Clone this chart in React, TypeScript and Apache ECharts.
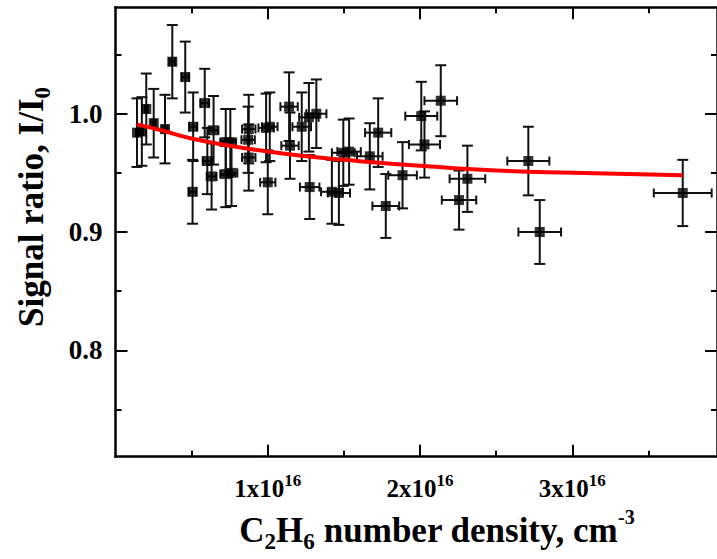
import React, { useEffect, useRef } from "react";
import * as echarts from "echarts";

// Measured data (x in units of 1e16 cm^-3)
const densityX = [0.141, 0.173, 0.202, 0.251, 0.325, 0.373, 0.458, 0.510, 0.506, 0.586, 0.603, 0.631, 0.644, 0.724, 0.754, 0.724, 0.762, 0.871, 0.875, 0.875, 0.989, 1.013, 1.000, 1.140, 1.146, 1.223, 1.270, 1.319, 1.275, 1.421, 1.467, 1.496, 1.534, 1.670, 1.725, 1.775, 1.885, 2.008, 2.029, 2.136, 2.256, 2.311, 2.711, 2.786, 3.725];
const signalRatio = [0.984, 0.985, 1.004, 0.992, 0.987, 1.044, 1.031, 0.989, 0.934, 1.009, 0.960, 0.947, 0.986, 0.976, 0.976, 0.949, 0.950, 0.978, 0.987, 0.963, 0.988, 0.989, 0.942, 1.006, 0.973, 0.989, 0.997, 1.000, 0.938, 0.934, 0.933, 0.967, 0.968, 0.964, 0.984, 0.922, 0.948, 0.998, 0.974, 1.011, 0.927, 0.945, 0.960, 0.900, 0.933];
const densityErr = [0.007, 0.009, 0.010, 0.013, 0.016, 0.019, 0.023, 0.026, 0.025, 0.029, 0.030, 0.032, 0.032, 0.036, 0.038, 0.036, 0.038, 0.044, 0.044, 0.044, 0.050, 0.051, 0.050, 0.057, 0.057, 0.061, 0.064, 0.066, 0.064, 0.071, 0.073, 0.075, 0.077, 0.084, 0.086, 0.088, 0.094, 0.105, 0.102, 0.107, 0.113, 0.117, 0.138, 0.140, 0.190];
const ratioErr = [0.029, 0.029, 0.030, 0.029, 0.029, 0.031, 0.030, 0.029, 0.027, 0.029, 0.028, 0.028, 0.029, 0.028, 0.028, 0.028, 0.028, 0.028, 0.029, 0.028, 0.029, 0.029, 0.027, 0.029, 0.028, 0.029, 0.029, 0.029, 0.027, 0.027, 0.027, 0.028, 0.028, 0.028, 0.029, 0.027, 0.028, 0.029, 0.028, 0.030, 0.025, 0.028, 0.029, 0.027, 0.028];

// Fit curve
const fitX = [0.14, 0.3, 0.5, 0.75, 1.0, 1.25, 1.5, 2.0, 2.5, 3.0, 3.725];
const fitY = [0.991, 0.986, 0.979, 0.973, 0.968, 0.964, 0.961, 0.956, 0.952, 0.950, 0.948];

// Axis ticks
const xMajorTicks = [1, 2, 3];
const xMinorTicks = [0.5, 1.5, 2.5, 3.5];
const xExponent = "16";
const yMajorTicks = [0.8, 0.9, 1.0];
const yMinorTicks = [0.75, 0.85, 0.95, 1.05];

const X_MIN = 0;
const X_MAX = 3.95;
const Y_MIN = 0.71;
const Y_MAX = 1.09;

const FONT = "'Liberation Serif', 'Times New Roman', serif";

export default function App() {
  const ref = useRef<HTMLDivElement>(null);

  useEffect(() => {
    if (!ref.current) return;
    const chart = echarts.init(ref.current, null, { renderer: "svg" });

    const errData = densityX.map((x, i) => [x, signalRatio[i], densityErr[i], ratioErr[i]]);
    const pts = densityX.map((x, i) => [x, signalRatio[i]]);
    const fit = fitX.map((x, i) => [x, fitY[i]]);

    const lineStyle = { color: "#000", width: 2.5 };

    const mkX = (pos: "top" | "bottom", ticks: number[], len: number, showLine: boolean, labels: boolean) => ({
      type: "value",
      position: pos,
      min: X_MIN,
      max: X_MAX,
      axisLine: { show: showLine, onZero: false, lineStyle },
      splitLine: { show: false },
      axisTick: { show: true, inside: true, length: len, customValues: ticks, lineStyle: { color: "#000", width: 2 } },
      axisLabel: labels
        ? {
            show: true,
            customValues: ticks,
            margin: 15,
            formatter: (v: number) => `{b|${Math.round(v)}x10}{s|${xExponent}}`,
            rich: {
              b: { fontFamily: FONT, fontWeight: "bold", fontSize: 25, color: "#000", lineHeight: 34 },
              s: { fontFamily: FONT, fontWeight: "bold", fontSize: 17, color: "#000", lineHeight: 14, verticalAlign: "top" },
            },
          }
        : { show: false },
    });

    const mkY = (pos: "left" | "right", ticks: number[], len: number, showLine: boolean, labels: boolean) => ({
      type: "value",
      position: pos,
      min: Y_MIN,
      max: Y_MAX,
      axisLine: { show: showLine, onZero: false, lineStyle },
      splitLine: { show: false },
      axisTick: { show: true, inside: true, length: len, customValues: ticks, lineStyle: { color: "#000", width: 2 } },
      axisLabel: labels
        ? {
            show: true,
            customValues: ticks,
            margin: 13,
            formatter: (v: number) => v.toFixed(1),
            fontFamily: FONT,
            fontWeight: "bold",
            fontSize: 27,
            color: "#000",
          }
        : { show: false },
    });

    chart.setOption({
      animation: false,
      backgroundColor: "#fff",
      grid: { left: 115.5, top: 7.3, right: -8.8, bottom: 102.3, containLabel: false },
      xAxis: [
        mkX("bottom", xMajorTicks, 12, true, true),
        mkX("bottom", xMinorTicks, 6, false, false),
        mkX("top", xMajorTicks, 12, true, false),
        mkX("top", xMinorTicks, 6, false, false),
      ],
      yAxis: [
        mkY("left", yMajorTicks, 12, true, true),
        mkY("left", yMinorTicks, 6, false, false),
        mkY("right", yMajorTicks, 12, true, false),
        mkY("right", yMinorTicks, 6, false, false),
      ],
      series: [
        {
          type: "custom",
          xAxisIndex: 0,
          yAxisIndex: 0,
          data: errData,
          clip: false,
          renderItem: (params: any, api: any) => {
            const x = api.value(0);
            const y = api.value(1);
            const xe = api.value(2);
            const ye = api.value(3);
            const top = api.coord([x, y + ye]);
            const bot = api.coord([x, y - ye]);
            const l = api.coord([x - xe, y]);
            const r = api.coord([x + xe, y]);
            const st = { stroke: "#111", lineWidth: 2 };
            const cw = 5.5;
            const ch = 4.5;
            const children: any[] = [
              { type: "line", shape: { x1: top[0], y1: top[1], x2: bot[0], y2: bot[1] }, style: st },
              { type: "line", shape: { x1: top[0] - cw, y1: top[1], x2: top[0] + cw, y2: top[1] }, style: st },
              { type: "line", shape: { x1: bot[0] - cw, y1: bot[1], x2: bot[0] + cw, y2: bot[1] }, style: st },
              { type: "line", shape: { x1: l[0], y1: l[1], x2: r[0], y2: r[1] }, style: st },
              { type: "line", shape: { x1: l[0], y1: l[1] - ch, x2: l[0], y2: l[1] + ch }, style: st },
              { type: "line", shape: { x1: r[0], y1: r[1] - ch, x2: r[0], y2: r[1] + ch }, style: st },
            ];
            return { type: "group", children };
          },
          z: 2,
        },
        {
          type: "scatter",
          xAxisIndex: 0,
          yAxisIndex: 0,
          data: pts,
          symbol: "rect",
          symbolSize: 10,
          itemStyle: { color: "#000" },
          z: 3,
        },
        {
          type: "line",
          xAxisIndex: 0,
          yAxisIndex: 0,
          data: fit,
          smooth: true,
          symbol: "none",
          lineStyle: { color: "#ff0000", width: 4 },
          z: 4,
        },
      ],
      graphic: [
        {
          type: "text",
          x: 437,
          y: 530,
          style: {
            text: "{m|C}{s|2}{m|H}{s|6}{m| number density, cm}{p|-3}",
            align: "center",
            verticalAlign: "middle",
            rich: {
              m: { fontFamily: FONT, fontWeight: "bold", fontSize: 35, fill: "#000", lineHeight: 46 },
              s: { fontFamily: FONT, fontWeight: "bold", fontSize: 23, fill: "#000", lineHeight: 16, verticalAlign: "bottom" },
              p: { fontFamily: FONT, fontWeight: "bold", fontSize: 20, fill: "#000", lineHeight: 20, verticalAlign: "top" },
            },
          },
        },
        {
          type: "text",
          x: 31,
          y: 207,
          rotation: Math.PI / 2,
          style: {
            text: "{m|Signal ratio, I/I}{s|0}",
            align: "center",
            verticalAlign: "middle",
            rich: {
              m: { fontFamily: FONT, fontWeight: "bold", fontSize: 35, fill: "#000", lineHeight: 46 },
              s: { fontFamily: FONT, fontWeight: "bold", fontSize: 23, fill: "#000", lineHeight: 16, verticalAlign: "bottom" },
            },
          },
        },
      ],
    });

    return () => chart.dispose();
  }, []);

  return <div ref={ref} style={{ width: 717, height: 559, position: "absolute", left: 0, top: 0 }} />;
}
